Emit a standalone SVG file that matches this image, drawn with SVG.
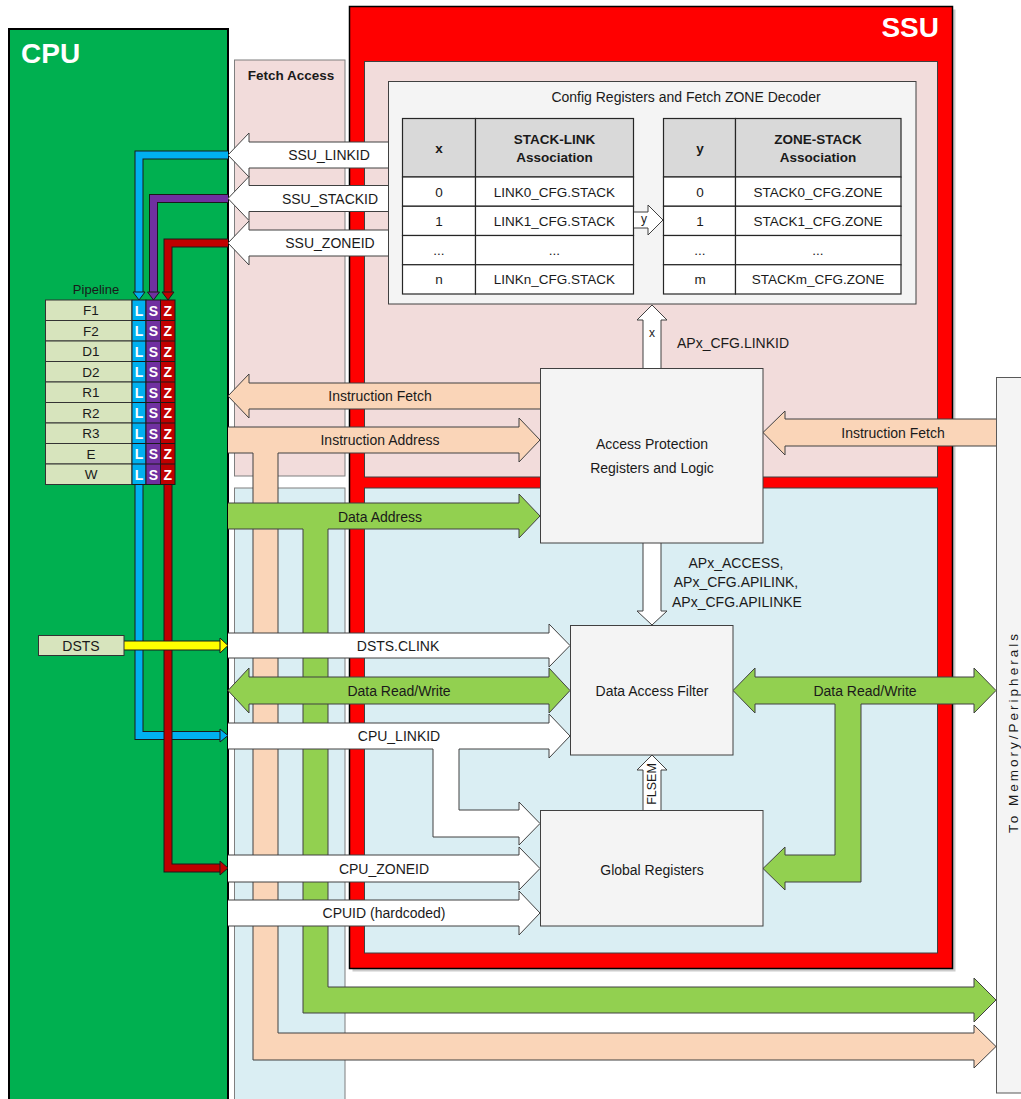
<svg xmlns="http://www.w3.org/2000/svg" width="1021" height="1099" viewBox="0 0 1021 1099">
<style>
.t{font-family:"Liberation Sans",Arial,sans-serif;font-size:14px;fill:#1a1a1a;text-anchor:middle;dominant-baseline:central}
.tb{font-family:"Liberation Sans",Arial,sans-serif;font-size:13.5px;fill:#1a1a1a;text-anchor:middle;dominant-baseline:central}
.hb{font-weight:bold}
.box{fill:#F4F4F4;stroke:#404040;stroke-width:1}
.wa{fill:#FFFFFF;stroke:#404040;stroke-width:1}
.ga{fill:#92D050;stroke:#404040;stroke-width:1}
.pa{fill:#FAD5B8;stroke:#404040;stroke-width:1}
.cell{fill:#FFFFFF;stroke:#262626;stroke-width:1.2}
.hcell{fill:#D9D9D9;stroke:#262626;stroke-width:1.2}
.pc{fill:#D7E4BD;stroke:#333;stroke-width:1}
.lt{font-family:"Liberation Sans",Arial,sans-serif;font-size:14px;font-weight:bold;fill:#fff;text-anchor:middle;dominant-baseline:central}
.ol{fill:none;stroke:#1a1a1a;stroke-width:9;stroke-linejoin:miter}
</style>
<rect width="1021" height="1099" fill="#fff"/>

<g id="cpu">
<rect x="9" y="29" width="219" height="1085" fill="#00B050" stroke="#000" stroke-width="2"/>
<text x="21" y="63" font-family="Liberation Sans,Arial,sans-serif" font-size="28" font-weight="bold" fill="#fff">CPU</text>
</g>

<g id="fetch-access">
<rect x="234.5" y="60" width="110.5" height="416" fill="#F2DCDB" stroke="#7f7f7f"/>
<text x="291" y="75" class="t hb" style="font-size:13.5px">Fetch Access</text>
</g>
<g id="data-access-column">
<rect x="234.5" y="488" width="110.5" height="620" fill="#DAEEF3" stroke="#7f7f7f"/>
</g>

<g id="ssu">
<rect x="352.5" y="9.5" width="603" height="962" fill="#9a9a9a" opacity="0.5"/>
<rect x="349.5" y="6.5" width="603" height="962" fill="#FF0000" stroke="#000" stroke-width="1.5"/>
<rect x="364.5" y="61.5" width="573" height="415.5" fill="#F2DCDB" stroke="#404040"/>
<rect x="364.5" y="488" width="573" height="465" fill="#DAEEF3" stroke="#404040"/>
<text x="939" y="37" text-anchor="end" font-family="Liberation Sans,Arial,sans-serif" font-size="28" font-weight="bold" fill="#fff">SSU</text>
</g>

<g id="config">
<rect class="box" x="388.5" y="81.5" width="527.5" height="222.5"/>
<text class="t" x="686" y="97">Config Registers and Fetch ZONE Decoder</text>
<g id="table-stack-link">
<rect class="hcell" x="402.5" y="118.5" width="73" height="58.5"/>
<rect class="hcell" x="475.5" y="118.5" width="158" height="58.5"/>
<rect class="cell" x="402.5" y="177" width="73" height="29.25"/>
<rect class="cell" x="475.5" y="177" width="158" height="29.25"/>
<rect class="cell" x="402.5" y="206.25" width="73" height="29.25"/>
<rect class="cell" x="475.5" y="206.25" width="158" height="29.25"/>
<rect class="cell" x="402.5" y="235.5" width="73" height="29.25"/>
<rect class="cell" x="475.5" y="235.5" width="158" height="29.25"/>
<rect class="cell" x="402.5" y="264.75" width="73" height="29.25"/>
<rect class="cell" x="475.5" y="264.75" width="158" height="29.25"/>
<text class="tb hb" x="439" y="148">x</text>
<text class="tb hb" x="554.5" y="139">STACK-LINK</text>
<text class="tb hb" x="554.5" y="157">Association</text>
<text class="tb" x="439" y="192">0</text><text class="tb" x="554.5" y="192">LINK0_CFG.STACK</text>
<text class="tb" x="439" y="221">1</text><text class="tb" x="554.5" y="221">LINK1_CFG.STACK</text>
<text class="tb" x="439" y="250">...</text><text class="tb" x="554.5" y="250">...</text>
<text class="tb" x="439" y="279">n</text><text class="tb" x="554.5" y="279">LINKn_CFG.STACK</text>
</g>
<g id="table-zone-stack">
<rect class="hcell" x="663.5" y="118.5" width="72" height="58.5"/>
<rect class="hcell" x="735.5" y="118.5" width="165.5" height="58.5"/>
<rect class="cell" x="663.5" y="177" width="72" height="29.25"/>
<rect class="cell" x="735.5" y="177" width="165.5" height="29.25"/>
<rect class="cell" x="663.5" y="206.25" width="72" height="29.25"/>
<rect class="cell" x="735.5" y="206.25" width="165.5" height="29.25"/>
<rect class="cell" x="663.5" y="235.5" width="72" height="29.25"/>
<rect class="cell" x="735.5" y="235.5" width="165.5" height="29.25"/>
<rect class="cell" x="663.5" y="264.75" width="72" height="29.25"/>
<rect class="cell" x="735.5" y="264.75" width="165.5" height="29.25"/>
<text class="tb hb" x="700" y="148">y</text>
<text class="tb hb" x="818" y="139">ZONE-STACK</text>
<text class="tb hb" x="818" y="157">Association</text>
<text class="tb" x="700" y="192">0</text><text class="tb" x="818" y="192">STACK0_CFG.ZONE</text>
<text class="tb" x="700" y="221">1</text><text class="tb" x="818" y="221">STACK1_CFG.ZONE</text>
<text class="tb" x="700" y="250">...</text><text class="tb" x="818" y="250">...</text>
<text class="tb" x="700" y="279">m</text><text class="tb" x="818" y="279">STACKm_CFG.ZONE</text>
</g>
</g>

<g id="connectors">
<!-- peach instruction address path with branch -->
<path class="pa" d="M228,427 H519 V418 L540,440 L519,462 V453 H278 V1033 H974 V1025 L996,1046.5 L974,1068 V1060 H253 V453 H228"/>
<!-- green data address with branch -->
<path class="ga" d="M228,503 H519 V494 L540,516 L519,538 V529 H328 V987 H974 V978 L996,1000 L974,1022 V1013 H303 V529 H228"/>
<!-- instruction fetch left -->
<path class="pa" d="M540,383 H249 V374 L228,396 L249,418 V409 H540"/>
<!-- SSU_ID arrows -->
<path class="wa" d="M388,142 H249 V133 L228,155 L249,177 V168 H388"/>
<path class="wa" d="M388,185.5 H249 V176.5 L228,198.5 L249,220.5 V211.5 H388"/>
<path class="wa" d="M388,230 H249 V221 L228,243 L249,265 V256 H388"/>
<!-- y arrow -->
<path class="wa" d="M634,212 H648 V205 L663,220 L648,235 V228 H634"/>
<!-- x arrow up -->
<path class="wa" d="M643,368 V320 H637 L652,305 L667,320 H661 V368"/>
<!-- down arrow AP -> DAF -->
<path class="wa" d="M643,543 V611 H637 L652,625 L667,611 H661 V543"/>
<!-- FLSEM -->
<path class="wa" d="M643,810 V770 H637 L652,755 L667,770 H661 V810"/>
<!-- DSTS.CLINK -->
<path class="wa" d="M228,633 H549 V624 L570,645.5 L549,667 V658 H228"/>
<!-- Data read/write left -->
<path class="ga" d="M228,690.5 L249,668 V677 H549 V668 L570,690.5 L549,713 V704 H249 V713 Z"/>
<!-- CPU_LINKID with branch -->
<path class="wa" d="M228,723 H549 V714 L570,736 L549,758 V749 H459 V810 H519 V802 L540,823.5 L519,845 V837 H433 V749 H228"/>
<!-- CPU_ZONEID -->
<path class="wa" d="M228,855 H519 V847 L540,868.5 L519,890 V882 H228"/>
<!-- CPUID -->
<path class="wa" d="M228,900 H519 V891 L540,913 L519,935 V926 H228"/>
<!-- right instruction fetch -->
<path class="pa" d="M996,419 H785 V411 L763,432.5 L785,455 V446 H996"/>
<!-- right data read/write with branch -->
<path class="ga" d="M733,690.5 L755,668 V677 H974 V668 L996,690.5 L974,713 V704 H861 V882 H785 V890 L763,868.5 L785,847 V855 H835 V704 H755 V713 Z"/>

<!-- colored ID lines in CPU -->
<path class="ol" d="M228,155 H139 V293"/>
<path d="M228,155 H139 V293" fill="none" stroke="#00B0F0" stroke-width="7"/>
<path class="ol" d="M228,198.5 H153.5 V293"/>
<path d="M228,198.5 H153.5 V293" fill="none" stroke="#7030A0" stroke-width="7"/>
<path class="ol" d="M228,243 H168 V293"/>
<path d="M228,243 H168 V293" fill="none" stroke="#C00000" stroke-width="7"/>
<path class="ol" d="M139,484 V735.5 H220"/>
<path d="M139,484 V735.5 H220" fill="none" stroke="#00B0F0" stroke-width="7"/>
<path class="ol" d="M168,484 V868 H220"/>
<path d="M168,484 V868 H220" fill="none" stroke="#C00000" stroke-width="7"/>
<polygon points="133,292 145,292 139,300" fill="#00B0F0" stroke="#1a1a1a"/>
<polygon points="147.5,292 159.5,292 153.5,300" fill="#7030A0" stroke="#1a1a1a"/>
<polygon points="162,292 174,292 168,300" fill="#C00000" stroke="#1a1a1a"/>
<polygon points="220,729 228,735.5 220,742" fill="#00B0F0" stroke="#1a1a1a"/>
<polygon points="220,861 228,868 220,875" fill="#C00000" stroke="#1a1a1a"/>
<!-- DSTS yellow -->
<path d="M124,645.5 H221" fill="none" stroke="#1a1a1a" stroke-width="10"/>
<path d="M124,645.5 H221" fill="none" stroke="#FFFF00" stroke-width="8"/>
<polygon points="220,638 228,645.5 220,653" fill="#FFFF00" stroke="#1a1a1a"/>
</g>

<g id="connector-labels">
<text class="t" x="329" y="155">SSU_LINKID</text>
<text class="t" x="330" y="199">SSU_STACKID</text>
<text class="t" x="330" y="243">SSU_ZONEID</text>
<text class="t" x="644" y="219" style="font-size:12px">y</text>
<text class="t" x="652" y="333" style="font-size:12px">x</text>
<text class="t" x="677" y="343" style="text-anchor:start">APx_CFG.LINKID</text>
<text class="t" x="380" y="396">Instruction Fetch</text>
<text class="t" x="380" y="440">Instruction Address</text>
<text class="t" x="380" y="517">Data Address</text>
<text class="t" x="893" y="433">Instruction Fetch</text>
<text class="t" x="736" y="563">APx_ACCESS,</text>
<text class="t" x="736" y="582">APx_CFG.APILINK,</text>
<text class="t" x="737" y="602">APx_CFG.APILINKE</text>
<text class="t" x="398" y="646">DSTS.CLINK</text>
<text class="t" x="399" y="691">Data Read/Write</text>
<text class="t" x="865" y="691">Data Read/Write</text>
<text class="t" x="399" y="736">CPU_LINKID</text>
<text class="t" x="384" y="869">CPU_ZONEID</text>
<text class="t" x="384" y="913">CPUID (hardcoded)</text>
<text class="t" x="652" y="784" style="font-size:12.5px" transform="rotate(-90 652 784)">FLSEM</text>
</g>

<g id="access-protection">
<rect class="box" x="540.5" y="368.5" width="222.5" height="174.5"/>
<text class="t" x="652" y="444">Access Protection</text>
<text class="t" x="652" y="468">Registers and Logic</text>
</g>
<g id="data-access-filter">
<rect class="box" x="570.5" y="625.5" width="162.5" height="129.5"/>
<text class="t" x="652" y="691">Data Access Filter</text>
</g>
<g id="global-registers">
<rect class="box" x="540.5" y="810.5" width="222.5" height="115.5"/>
<text class="t" x="652" y="870">Global Registers</text>
</g>
<g id="memory-bar">
<rect x="996.5" y="377.5" width="30" height="715.5" fill="#F4F4F4" stroke="#595959"/>
<text class="t" x="1013" y="732" style="font-size:13.5px;letter-spacing:3px" transform="rotate(-90 1013 732)">To Memory/Peripherals</text>
</g>

<g id="pipeline">
<text class="t" x="96" y="289" style="font-size:13px">Pipeline</text>
<g id="pipe-rows">
<rect class="pc" x="45.5" y="300" width="86.5" height="20.5"/><rect class="pc" x="45.5" y="320.5" width="86.5" height="20.5"/>
<rect class="pc" x="45.5" y="341" width="86.5" height="20.5"/><rect class="pc" x="45.5" y="361.5" width="86.5" height="20.5"/>
<rect class="pc" x="45.5" y="382" width="86.5" height="20.5"/><rect class="pc" x="45.5" y="402.5" width="86.5" height="20.5"/>
<rect class="pc" x="45.5" y="423" width="86.5" height="20.5"/><rect class="pc" x="45.5" y="443.5" width="86.5" height="20.5"/>
<rect class="pc" x="45.5" y="464" width="86.5" height="20.5"/>
</g>
<g id="pipe-cols" stroke="#1a1a1a" stroke-width="1">
<rect x="132" y="300" width="14" height="184.5" fill="#00B0F0"/>
<rect x="146" y="300" width="14.5" height="184.5" fill="#7030A0"/>
<rect x="160.5" y="300" width="14.5" height="184.5" fill="#C00000"/>
<path d="M132,320.5 H175 M132,341 H175 M132,361.5 H175 M132,382 H175 M132,402.5 H175 M132,423 H175 M132,443.5 H175 M132,464 H175" fill="none"/>
</g>
<text class="t" x="91" y="310.5" style="font-size:13.5px">F1</text>
<text class="t" x="91" y="331" style="font-size:13.5px">F2</text>
<text class="t" x="91" y="351.5" style="font-size:13.5px">D1</text>
<text class="t" x="91" y="372" style="font-size:13.5px">D2</text>
<text class="t" x="91" y="392.5" style="font-size:13.5px">R1</text>
<text class="t" x="91" y="413" style="font-size:13.5px">R2</text>
<text class="t" x="91" y="433.5" style="font-size:13.5px">R3</text>
<text class="t" x="91" y="454" style="font-size:13.5px">E</text>
<text class="t" x="91" y="474.5" style="font-size:13.5px">W</text>
<g id="pipe-letters">
<text class="lt" x="139" y="310.5">L</text><text class="lt" x="153.3" y="310.5">S</text><text class="lt" x="167.8" y="310.5">Z</text>
<text class="lt" x="139" y="331">L</text><text class="lt" x="153.3" y="331">S</text><text class="lt" x="167.8" y="331">Z</text>
<text class="lt" x="139" y="351.5">L</text><text class="lt" x="153.3" y="351.5">S</text><text class="lt" x="167.8" y="351.5">Z</text>
<text class="lt" x="139" y="372">L</text><text class="lt" x="153.3" y="372">S</text><text class="lt" x="167.8" y="372">Z</text>
<text class="lt" x="139" y="392.5">L</text><text class="lt" x="153.3" y="392.5">S</text><text class="lt" x="167.8" y="392.5">Z</text>
<text class="lt" x="139" y="413">L</text><text class="lt" x="153.3" y="413">S</text><text class="lt" x="167.8" y="413">Z</text>
<text class="lt" x="139" y="433.5">L</text><text class="lt" x="153.3" y="433.5">S</text><text class="lt" x="167.8" y="433.5">Z</text>
<text class="lt" x="139" y="454">L</text><text class="lt" x="153.3" y="454">S</text><text class="lt" x="167.8" y="454">Z</text>
<text class="lt" x="139" y="474.5">L</text><text class="lt" x="153.3" y="474.5">S</text><text class="lt" x="167.8" y="474.5">Z</text>
</g>
</g>

<g id="dsts">
<rect x="38.5" y="635.5" width="85.5" height="20" fill="#D7E4BD" stroke="#333"/>
<text class="t" x="81" y="646">DSTS</text>
</g>
</svg>
